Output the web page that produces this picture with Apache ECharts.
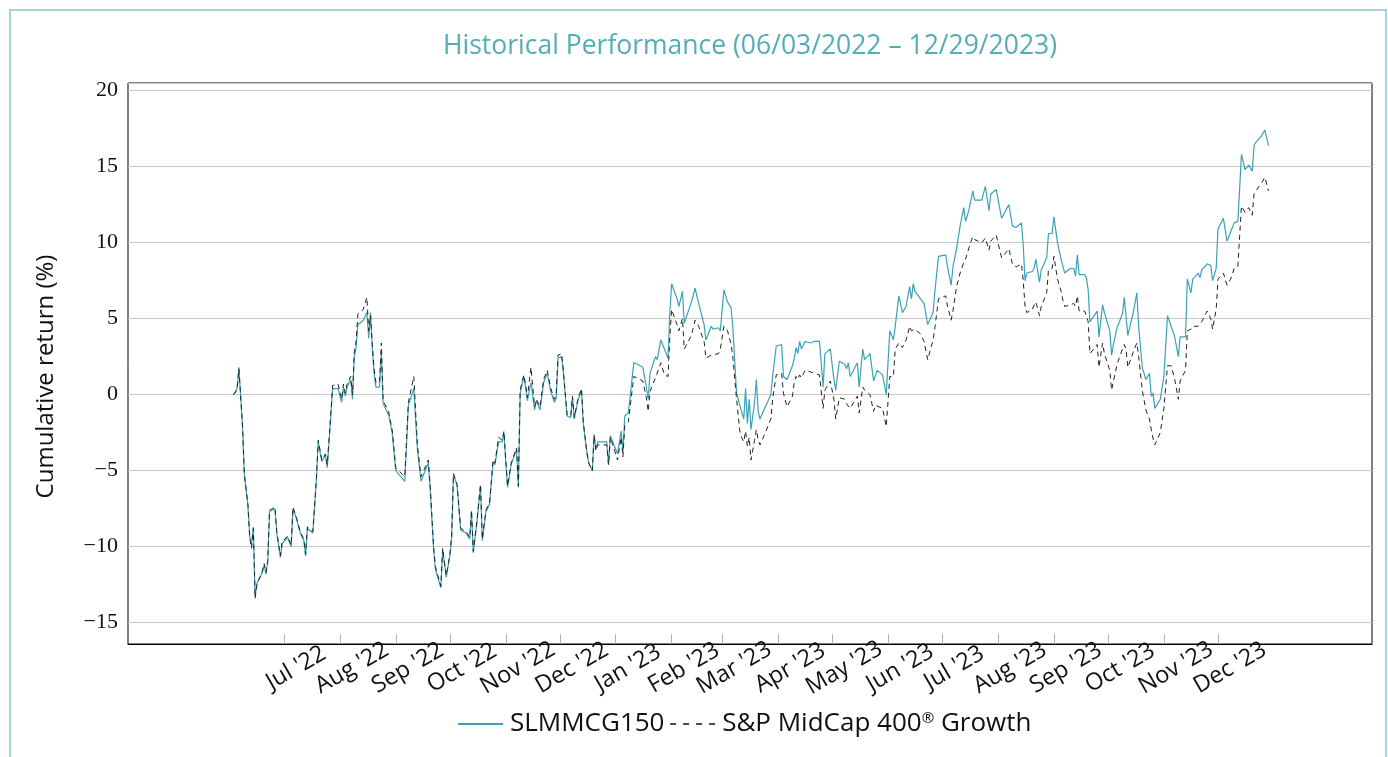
<!DOCTYPE html>
<html>
<head>
<meta charset="utf-8">
<script src="https://cdn.jsdelivr.net/npm/echarts@6/dist/echarts.min.js"></script>
<style>
html,body{margin:0;padding:0;background:#fff;}
#chart{width:1388px;height:757px;}
</style>
</head>
<body>
<div id="chart"></div>
<script>
const dates = [
'2022-06-03','2022-06-05','2022-06-06','2022-06-08','2022-06-09','2022-06-11','2022-06-12','2022-06-13','2022-06-14','2022-06-15',
'2022-06-16','2022-06-19','2022-06-20','2022-06-21','2022-06-22','2022-06-23','2022-06-26','2022-06-27','2022-06-29','2022-06-30',
'2022-07-03','2022-07-04','2022-07-05','2022-07-06','2022-07-08','2022-07-10','2022-07-12','2022-07-13','2022-07-14','2022-07-15',
'2022-07-17','2022-07-19','2022-07-20','2022-07-22','2022-07-24','2022-07-25','2022-07-27','2022-07-28','2022-07-31','2022-08-02',
'2022-08-03','2022-08-04','2022-08-05','2022-08-07','2022-08-08','2022-08-09','2022-08-10','2022-08-11','2022-08-14','2022-08-16',
'2022-08-17','2022-08-18','2022-08-19','2022-08-20','2022-08-21','2022-08-23','2022-08-24','2022-08-25','2022-08-28','2022-08-30',
'2022-09-01','2022-09-06','2022-09-08','2022-09-11','2022-09-13','2022-09-14','2022-09-15','2022-09-19','2022-09-20','2022-09-22',
'2022-09-23','2022-09-26','2022-09-27','2022-09-29','2022-10-01','2022-10-02','2022-10-03','2022-10-05','2022-10-07','2022-10-10',
'2022-10-12','2022-10-13','2022-10-14','2022-10-16','2022-10-18','2022-10-19','2022-10-21','2022-10-23','2022-10-25','2022-10-26',
'2022-10-28','2022-10-30','2022-10-31','2022-11-01','2022-11-02','2022-11-04','2022-11-07','2022-11-08','2022-11-09','2022-11-11',
'2022-11-12','2022-11-13','2022-11-15','2022-11-17','2022-11-18','2022-11-20','2022-11-22','2022-11-24','2022-11-26','2022-11-28',
'2022-11-29','2022-11-30','2022-12-02','2022-12-03','2022-12-05','2022-12-07','2022-12-08','2022-12-09','2022-12-11','2022-12-13',
'2022-12-14','2022-12-16','2022-12-17','2022-12-19','2022-12-20','2022-12-21','2022-12-22','2022-12-27','2022-12-28','2022-12-29',
'2023-01-02','2023-01-04','2023-01-05','2023-01-06','2023-01-08','2023-01-11','2023-01-13','2023-01-16','2023-01-18','2023-01-19',
'2023-01-20','2023-01-23','2023-01-24','2023-01-26','2023-01-28','2023-01-30','2023-01-31','2023-02-01','2023-02-04','2023-02-05',
'2023-02-07','2023-02-08','2023-02-12','2023-02-14','2023-02-16','2023-02-19','2023-02-20','2023-02-23','2023-02-24','2023-02-27',
'2023-02-28','2023-03-02','2023-03-04','2023-03-06','2023-03-07','2023-03-09','2023-03-11','2023-03-13','2023-03-14','2023-03-15',
'2023-03-16','2023-03-17','2023-03-19','2023-03-20','2023-03-21','2023-03-22','2023-03-25','2023-03-28','2023-03-29','2023-03-31',
'2023-04-03','2023-04-04','2023-04-06','2023-04-09','2023-04-10','2023-04-11','2023-04-12','2023-04-13','2023-04-14','2023-04-16',
'2023-04-19','2023-04-21','2023-04-24','2023-04-26','2023-04-27','2023-04-30','2023-05-02','2023-05-03','2023-05-05','2023-05-08',
'2023-05-09','2023-05-10','2023-05-11','2023-05-15','2023-05-16','2023-05-18','2023-05-19','2023-05-22','2023-05-24','2023-05-25',
'2023-05-26','2023-05-29','2023-05-31','2023-06-02','2023-06-04','2023-06-05','2023-06-07','2023-06-09','2023-06-11','2023-06-12',
'2023-06-13','2023-06-14','2023-06-15','2023-06-16','2023-06-19','2023-06-21','2023-06-23','2023-06-26','2023-06-27','2023-06-29',
'2023-07-03','2023-07-04','2023-07-06','2023-07-07','2023-07-09','2023-07-11','2023-07-13','2023-07-14','2023-07-16','2023-07-18',
'2023-07-19','2023-07-23','2023-07-25','2023-07-27','2023-07-28','2023-07-31','2023-08-03','2023-08-04','2023-08-07','2023-08-09',
'2023-08-11','2023-08-14','2023-08-15','2023-08-16','2023-08-17','2023-08-20','2023-08-21','2023-08-22','2023-08-24','2023-08-25',
'2023-08-28','2023-08-29','2023-08-31','2023-09-01','2023-09-03','2023-09-05','2023-09-06','2023-09-07','2023-09-10','2023-09-12',
'2023-09-13','2023-09-14','2023-09-15','2023-09-18','2023-09-19','2023-09-20','2023-09-21','2023-09-22','2023-09-25','2023-09-26',
'2023-09-28','2023-09-29','2023-10-02','2023-10-03','2023-10-04','2023-10-05','2023-10-06','2023-10-09','2023-10-10','2023-10-11',
'2023-10-12','2023-10-15','2023-10-17','2023-10-18','2023-10-20','2023-10-22','2023-10-24','2023-10-25','2023-10-26','2023-10-27',
'2023-10-30','2023-11-01','2023-11-03','2023-11-05','2023-11-07','2023-11-09','2023-11-10','2023-11-13','2023-11-14','2023-11-15',
'2023-11-16','2023-11-17','2023-11-20','2023-11-21','2023-11-22','2023-11-25','2023-11-27','2023-11-28','2023-11-30','2023-12-01',
'2023-12-04','2023-12-06','2023-12-08','2023-12-10','2023-12-12','2023-12-13','2023-12-14','2023-12-16','2023-12-18','2023-12-19',
'2023-12-20','2023-12-21','2023-12-22','2023-12-25','2023-12-27','2023-12-28','2023-12-29'
];

const slmmcg150 = [
0.0,0.4,1.8,-2.1,-5.2,-7.3,-9.3,-9.9,-8.7,-13.3,
-12.4,-11.7,-11.2,-11.8,-11.0,-7.7,-7.5,-9.1,-10.7,-9.8,
-9.4,-9.4,-10.0,-7.5,-8.2,-9.1,-9.6,-10.6,-8.8,-8.8,
-9.1,-5.6,-3.1,-4.4,-4.0,-4.8,-1.4,0.4,0.4,-0.5,
0.5,-0.1,0.5,1.0,-0.3,2.5,3.1,4.6,4.9,5.4,
3.7,5.4,3.0,1.4,0.5,0.5,2.8,-0.6,-1.3,-2.5,
-5.0,-5.7,-0.7,0.4,-3.6,-3.6,-5.7,-4.5,-6.0,-10.2,
-11.5,-12.7,-10.2,-12.0,-10.6,-9.4,-5.2,-6.0,-8.9,-9.1,
-9.5,-7.7,-10.4,-8.4,-6.0,-9.6,-7.7,-7.2,-4.4,-4.6,
-3.1,-3.1,-2.5,-4.4,-6.1,-4.6,-3.6,-6.1,0.1,1.2,
0.5,-0.4,0.8,-1.0,-0.4,-1.0,0.8,1.4,0.2,-0.5,
-0.2,2.4,2.5,1.4,-1.4,-1.5,-0.2,-1.6,-0.4,0.3,
-1.9,-3.8,-4.5,-5.0,-2.6,-3.6,-3.1,-3.1,-4.6,-2.7,
-3.9,-2.4,-3.8,-1.4,-1.2,2.1,2.0,1.8,0.5,-0.3,
1.4,2.5,2.3,3.6,3.0,2.4,5.4,7.3,6.3,5.8,
6.8,4.7,6.1,7.0,6.0,4.6,3.6,4.5,4.3,4.4,
4.2,6.9,6.1,5.7,4.3,0.1,-0.8,-1.6,0.4,-1.9,
-0.3,-2.3,-0.5,1.0,-1.1,-1.6,-0.8,0.0,1.2,3.2,
3.3,1.2,1.0,1.9,2.4,3.1,2.7,3.5,3.0,3.5,
3.4,3.5,3.5,0.5,2.7,3.0,1.0,0.3,2.2,2.0,
1.7,2.1,1.2,2.1,0.5,3.0,2.3,2.7,0.9,0.9,
1.6,1.3,0.0,4.2,3.6,4.5,6.5,5.4,5.8,5.9,
7.1,6.3,7.3,6.8,6.3,6.0,4.6,5.4,6.8,9.1,
9.2,8.4,7.2,8.4,9.6,11.1,12.3,11.4,12.2,13.4,
12.8,12.8,13.7,12.1,13.2,13.5,11.6,11.5,12.5,11.1,
11.0,11.3,9.8,7.5,8.0,8.1,8.3,8.9,7.4,8.2,
9.0,10.6,10.6,11.7,10.0,8.9,8.8,8.0,8.3,8.3,
7.8,9.2,7.9,7.9,7.7,6.9,4.8,4.7,5.5,3.8,
5.9,5.4,4.2,2.6,3.3,3.4,4.4,5.3,6.4,6.4,
3.9,5.4,6.7,4.5,1.8,1.0,1.4,-0.1,0.1,-0.9,
-0.3,1.2,5.2,4.5,3.8,2.5,3.8,3.8,7.6,7.7,
6.7,7.6,8.0,7.7,8.2,8.6,8.5,7.5,8.3,10.9,
11.6,10.1,10.7,11.3,11.4,13.5,15.8,14.8,15.1,15.2,
14.7,16.4,16.6,17.0,17.4,17.3,16.4
];

const spMidCap400Growth = [
0.0,0.3,1.7,-2.0,-5.2,-7.2,-9.4,-10.1,-8.8,-13.4,
-12.5,-11.6,-11.1,-11.7,-10.9,-7.6,-7.4,-9.0,-10.6,-9.7,
-9.3,-9.3,-9.9,-7.4,-8.1,-9.0,-9.5,-10.5,-8.7,-8.7,
-9.0,-5.5,-3.0,-4.3,-3.9,-4.6,-1.2,0.6,0.7,-0.3,
0.7,0.1,0.7,1.2,0.0,2.8,3.5,5.3,5.6,6.4,
4.2,5.2,3.3,1.7,0.8,0.8,3.4,-0.4,-1.1,-2.3,
-4.8,-5.4,-0.5,1.2,-3.3,-3.4,-5.4,-4.3,-5.8,-10.0,
-11.3,-12.6,-10.1,-11.9,-10.5,-9.3,-5.2,-5.9,-8.8,-9.0,
-9.4,-7.6,-10.3,-8.3,-5.9,-9.5,-7.6,-7.1,-4.3,-4.5,
-2.8,-3.0,-2.4,-4.3,-6.0,-4.5,-3.5,-6.0,0.3,1.3,
0.7,-0.2,1.8,-0.8,-0.3,-0.8,1.0,1.6,0.4,-0.3,
0.0,2.6,2.7,1.5,-1.3,-1.4,-0.1,-1.5,-0.3,0.4,
-1.8,-3.8,-4.5,-5.0,-2.7,-3.7,-3.3,-3.3,-4.6,-2.8,
-4.3,-2.8,-4.1,-2.0,-1.8,1.2,1.1,0.9,-0.2,-1.1,
0.2,1.1,1.0,2.1,1.3,1.2,3.8,5.6,4.6,4.2,
5.0,3.0,3.9,4.9,4.5,3.5,2.4,2.6,2.5,2.7,
3.0,4.5,4.2,3.3,2.4,-0.3,-2.6,-3.1,-2.4,-3.4,
-2.8,-4.3,-3.0,-2.3,-3.0,-3.3,-2.5,-1.6,-0.3,1.3,
1.4,0.1,-0.8,-0.1,0.8,1.2,1.0,1.3,1.1,1.6,
1.5,1.4,1.3,-0.9,0.3,0.9,-0.3,-1.6,-0.2,-0.3,
-0.6,-0.7,-0.9,-0.1,-1.2,0.5,0.3,0.0,-1.1,-0.7,
-0.6,-0.9,-2.1,1.2,1.2,3.0,3.4,3.1,3.6,4.0,
4.5,4.2,4.1,4.3,4.0,3.5,2.3,3.6,4.4,6.3,
6.5,5.8,4.9,5.5,7.1,8.0,8.7,8.9,9.7,10.4,
10.2,10.0,10.3,9.5,10.1,10.5,9.0,8.9,9.6,8.6,
8.4,8.6,7.5,5.8,5.4,5.6,5.9,6.1,5.2,5.8,
6.7,8.2,8.3,9.1,7.6,6.8,6.2,5.8,5.9,6.0,
5.8,6.5,5.5,5.5,5.2,4.8,2.7,2.6,3.3,1.8,
3.4,2.7,1.6,0.3,0.9,1.4,2.0,3.0,3.3,3.0,
1.8,2.8,3.4,2.5,0.3,-1.0,-1.6,-2.3,-2.9,-3.3,
-2.5,-0.9,1.9,1.9,1.0,-0.3,0.9,1.6,4.2,4.2,
4.3,4.5,4.5,4.5,4.8,5.5,5.0,4.3,5.6,7.6,
8.0,7.2,7.6,8.3,8.4,10.4,12.4,12.0,12.3,12.4,
11.8,13.2,13.4,13.9,14.3,14.2,13.4
];

const seriesNames = ['SLMMCG150', 'S&P MidCap 400® Growth'];

const tickDates = ['2022-07-01','2022-08-01','2022-09-01','2022-10-01','2022-11-01','2022-12-01',
'2023-01-01','2023-02-01','2023-03-01','2023-04-01','2023-05-01','2023-06-01',
'2023-07-01','2023-08-01','2023-09-01','2023-10-01','2023-11-01','2023-12-01'];
const tickLabels = ["Jul '22","Aug '22","Sep '22","Oct '22","Nov '22","Dec '22",
"Jan '23","Feb '23","Mar '23","Apr '23","May '23","Jun '23",
"Jul '23","Aug '23","Sep '23","Oct '23","Nov '23","Dec '23"];

function ts(s) {
  const p = s.split('-').map(Number);
  return Date.UTC(p[0], p[1] - 1, p[2]);
}
const tickTimes = tickDates.map(ts);

const chart = echarts.init(document.getElementById('chart'), null, {renderer: 'canvas'});
const option = {
  backgroundColor: '#fff',
  animation: false,
  graphic: [{
    type: 'rect', shape: {x: 10, y: 10, width: 1376, height: 760},
    style: {fill: 'none', stroke: '#a3d5da', lineWidth: 2}, silent: true, z: -1
  }],
  title: {
    text: 'Historical Performance (06/03/2022 – 12/29/2023)',
    left: 745, top: 28, textAlign: 'center',
    textStyle: {fontFamily: 'Open Sans', fontSize: 26.5, fontWeight: 'normal', color: '#52adb8'}
  },
  legend: {
    left: 452, top: 706,
    itemWidth: 45, itemHeight: 14, itemGap: 5,
    data: [
      {name: seriesNames[0]},
      {name: seriesNames[1], lineStyle: {type: [6, 7], width: 1.3, color: '#111', opacity: 1}}
    ],
    itemStyle: {opacity: 0},
    formatter: function (name) { return name.replace('®', '{sup|®}'); },
    textStyle: {
      fontFamily: 'Open Sans', fontSize: 26, color: '#111', padding: [0, 0, 0, 2],
      rich: {sup: {fontFamily: 'Open Sans', fontSize: 15, color: '#111', verticalAlign: 'top'}}
    }
  },
  grid: {
    left: 128, top: 83, right: 16, bottom: 113,
    show: true, borderColor: '#000', borderWidth: 1, containLabel: false
  },
  xAxis: {
    type: 'value',
    min: Date.UTC(2022, 3, 5, 12),
    max: Date.UTC(2024, 1, 24, 10),
    axisLine: {show: true, onZero: false, lineStyle: {color: '#000', width: 1}},
    axisTick: {show: true, inside: true, length: 10, customValues: tickTimes, lineStyle: {color: '#b0b0b0', width: 1}},
    splitLine: {show: false},
    axisLabel: {
      customValues: tickTimes,
      rotate: 30, align: 'center', verticalAlign: 'middle',
      margin: 31, padding: [15, 0, 0, 28],
      hideOverlap: false,
      fontFamily: 'Open Sans', fontSize: 23.5, color: '#111',
      formatter: function (val) {
        const i = tickTimes.indexOf(val);
        return i >= 0 ? tickLabels[i] : '';
      }
    }
  },
  yAxis: {
    type: 'value',
    min: -16.4, max: 20.5, splitNumber: 7,
    name: 'Cumulative return (%)',
    nameLocation: 'middle', nameGap: 70,
    nameTextStyle: {fontFamily: 'Open Sans', fontSize: 24, color: '#111', padding: [0, 26, 0, 0]},
    axisLine: {show: false},
    axisTick: {show: false},
    splitLine: {show: true, lineStyle: {color: '#c8c8c8', width: 1}},
    axisLabel: {
      showMinLabel: false, showMaxLabel: false,
      margin: 10,
      fontFamily: 'Liberation Serif', fontSize: 22, color: '#111',
      formatter: function (v) {
        if (Math.abs(v % 5) > 1e-6) return '';
        return String(v).replace('-', '\u2212');
      }
    }
  },
  series: [
    {
      name: seriesNames[0], type: 'line', symbol: 'none', showSymbol: false,
      data: dates.map((d, i) => [ts(d), slmmcg150[i]]),
      lineStyle: {color: '#3aa2b7', width: 1.2},
      itemStyle: {color: '#3aa2b7'}
    },
    {
      name: seriesNames[1], type: 'line', symbol: 'none', showSymbol: false,
      data: dates.map((d, i) => [ts(d), spMidCap400Growth[i]]),
      lineStyle: {color: '#222', width: 1, type: [5, 4]},
      itemStyle: {color: '#222'}
    }
  ]
};
chart.setOption(option);
</script>
</body>
</html>
